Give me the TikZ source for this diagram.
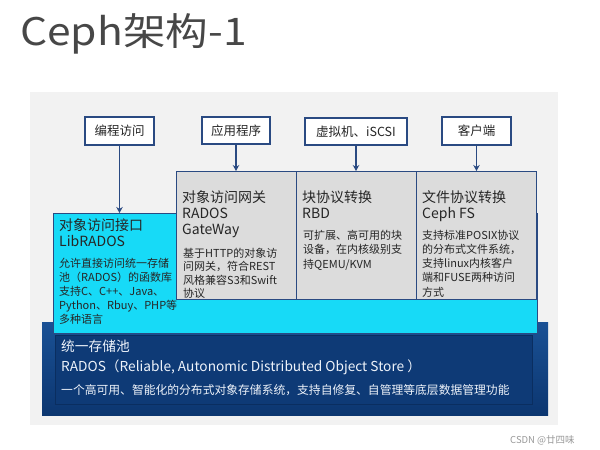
\documentclass[tikz,border=0pt]{standalone}
\usepackage{fontspec}
\setmainfont{Noto Sans CJK SC}
\usetikzlibrary{arrows.meta}
\definecolor{panelgray}{HTML}{F2F2F2}
\definecolor{navyline}{HTML}{2A4A82}
\definecolor{boxgray}{HTML}{DCDCDC}
\definecolor{cyanfill}{HTML}{17DAF7}
\definecolor{navytop}{HTML}{1A5195}
\definecolor{navybot}{HTML}{0C3670}
\definecolor{navyin}{HTML}{0A2E60}
\definecolor{txt}{HTML}{262626}
\definecolor{ltxt}{HTML}{EEF3FA}
\tikzset{
  topbox/.style={draw=navyline, line width=1.5pt, fill=white},
  graybox/.style={draw=navyline, line width=1.2pt, fill=boxgray},
  arr/.style={draw=navyline, line width=1.5pt, -{Stealth[length=6pt,width=6.5pt]}},
  lbl/.style={font=\fontsize{12.5}{15}\selectfont, text=txt, inner sep=0pt},
  head/.style={font=\fontsize{14}{16}\selectfont, text=txt, inner sep=0pt, anchor=north west, align=left},
  small/.style={font=\fontsize{11}{#1}\selectfont, text=txt, inner sep=0pt, anchor=north west, align=left},
}
\begin{document}
\begin{tikzpicture}[x=1pt,y=-1pt]
\useasboundingbox (0,0) rectangle (600,450);
\fill[white] (0,0) rectangle (600,450);
% title
\node[anchor=west, inner sep=0pt, text=txt!85, font=\fontsize{38}{40}\selectfont, xscale=1.12] (title) at (20,34) {Ceph架构-1};
% panel
\fill[panelgray] (30,92) rectangle (558,425);
% navy storage pool
\shade[top color=navytop, bottom color=navybot] (42,322) rectangle (548,415);
\node[draw=navyin, line width=0.6pt, fill=navybot!85!navytop, minimum width=477pt, minimum height=69pt, anchor=north west, inner sep=0pt] (inner) at (55,335) {};
% cyan LibRADOS
\node[draw=navyline, line width=1pt, fill=cyanfill, minimum width=484pt, minimum height=120pt, anchor=north west, inner sep=0pt] (lib) at (53,213) {};
% gray boxes
\node[graybox, minimum width=120pt, minimum height=128pt, anchor=north west, inner sep=0pt] (g1) at (176,171) {};
\node[graybox, minimum width=120pt, minimum height=128pt, anchor=north west, inner sep=0pt] (g2) at (296,171) {};
\node[graybox, minimum width=120pt, minimum height=128pt, anchor=north west, inner sep=0pt] (g3) at (416,171) {};
% top boxes
\node[topbox, minimum width=69pt, minimum height=28pt] (b1) at (119.5,131) {};
\node[topbox, minimum width=68pt, minimum height=27pt] (b2) at (236,130.5) {};
\node[topbox, minimum width=102pt, minimum height=27pt] (b3) at (356,131.5) {};
\node[topbox, minimum width=69pt, minimum height=28pt] (b4) at (476.5,131) {};
\node[lbl] (t1) at (b1) {编程访问};
\node[lbl] (t2) at (b2) {应用程序};
\node[lbl] (t3) at (b3) {虚拟机、iSCSI};
\node[lbl] (t4) at (b4) {客户端};
% arrows
\draw[arr] (b1.south) -- (b1.south |- lib.north);
\draw[arr] (b2.south) -- (b2.south |- g1.north);
\draw[arr] (b3.south) -- (b3.south |- g2.north);
\draw[arr] (b4.south) -- (b4.south |- g3.north);
% LibRADOS texts
\node[head] (libh) at (59,218.4) {对象访问接口\\LibRADOS};
\node[small=14] (libs) at (59,257.8) {允许直接访问统一存储\\池（RADOS）的函数库\\支持C、C++、Java、\\Python、Rbuy、PHP等\\多种语言};
% gateway
\node[head] (g1h) at (182,190.4) {对象访问网关\\RADOS\\GateWay};
\node[small=13.5] (g1s) at (183,247.8) {基于HTTP的对象访\\问网关，符合REST\\风格兼容S3和Swift\\协议};
% RBD
\node[head] (g2h) at (302,190.4) {块协议转换\\RBD};
\node[small=14.5] (g2s) at (303,229.8) {可扩展、高可用的块\\设备，在内核级别支\\持QEMU/KVM};
% CephFS
\node[head] (g3h) at (422,190.4) {文件协议转换\\Ceph FS};
\node[small=14.25] (g3s) at (422,229.8) {支持标准POSIX协议\\的分布式文件系统，\\支持linux内核客户\\端和FUSE两种访问\\方式};
% storage pool texts
\node[anchor=north west, align=left, inner sep=0pt, text=ltxt, font=\fontsize{13.7}{20}\selectfont] (poolh) at (61,339.5) {统一存储池\\RADOS（Reliable, Autonomic Distributed Object Store ）};
\node[anchor=west, inner sep=0pt, text=ltxt, font=\fontsize{11.8}{14}\selectfont] (pools) at (61,390) {一个高可用、智能化的分布式对象存储系统，支持自修复、自管理等底层数据管理功能};
% watermark
\node[anchor=west, inner sep=0pt, text=black!40, font=\fontsize{9.5}{11}\selectfont] (wm) at (510,440) {CSDN @廿四味};
\end{tikzpicture}
\end{document}
